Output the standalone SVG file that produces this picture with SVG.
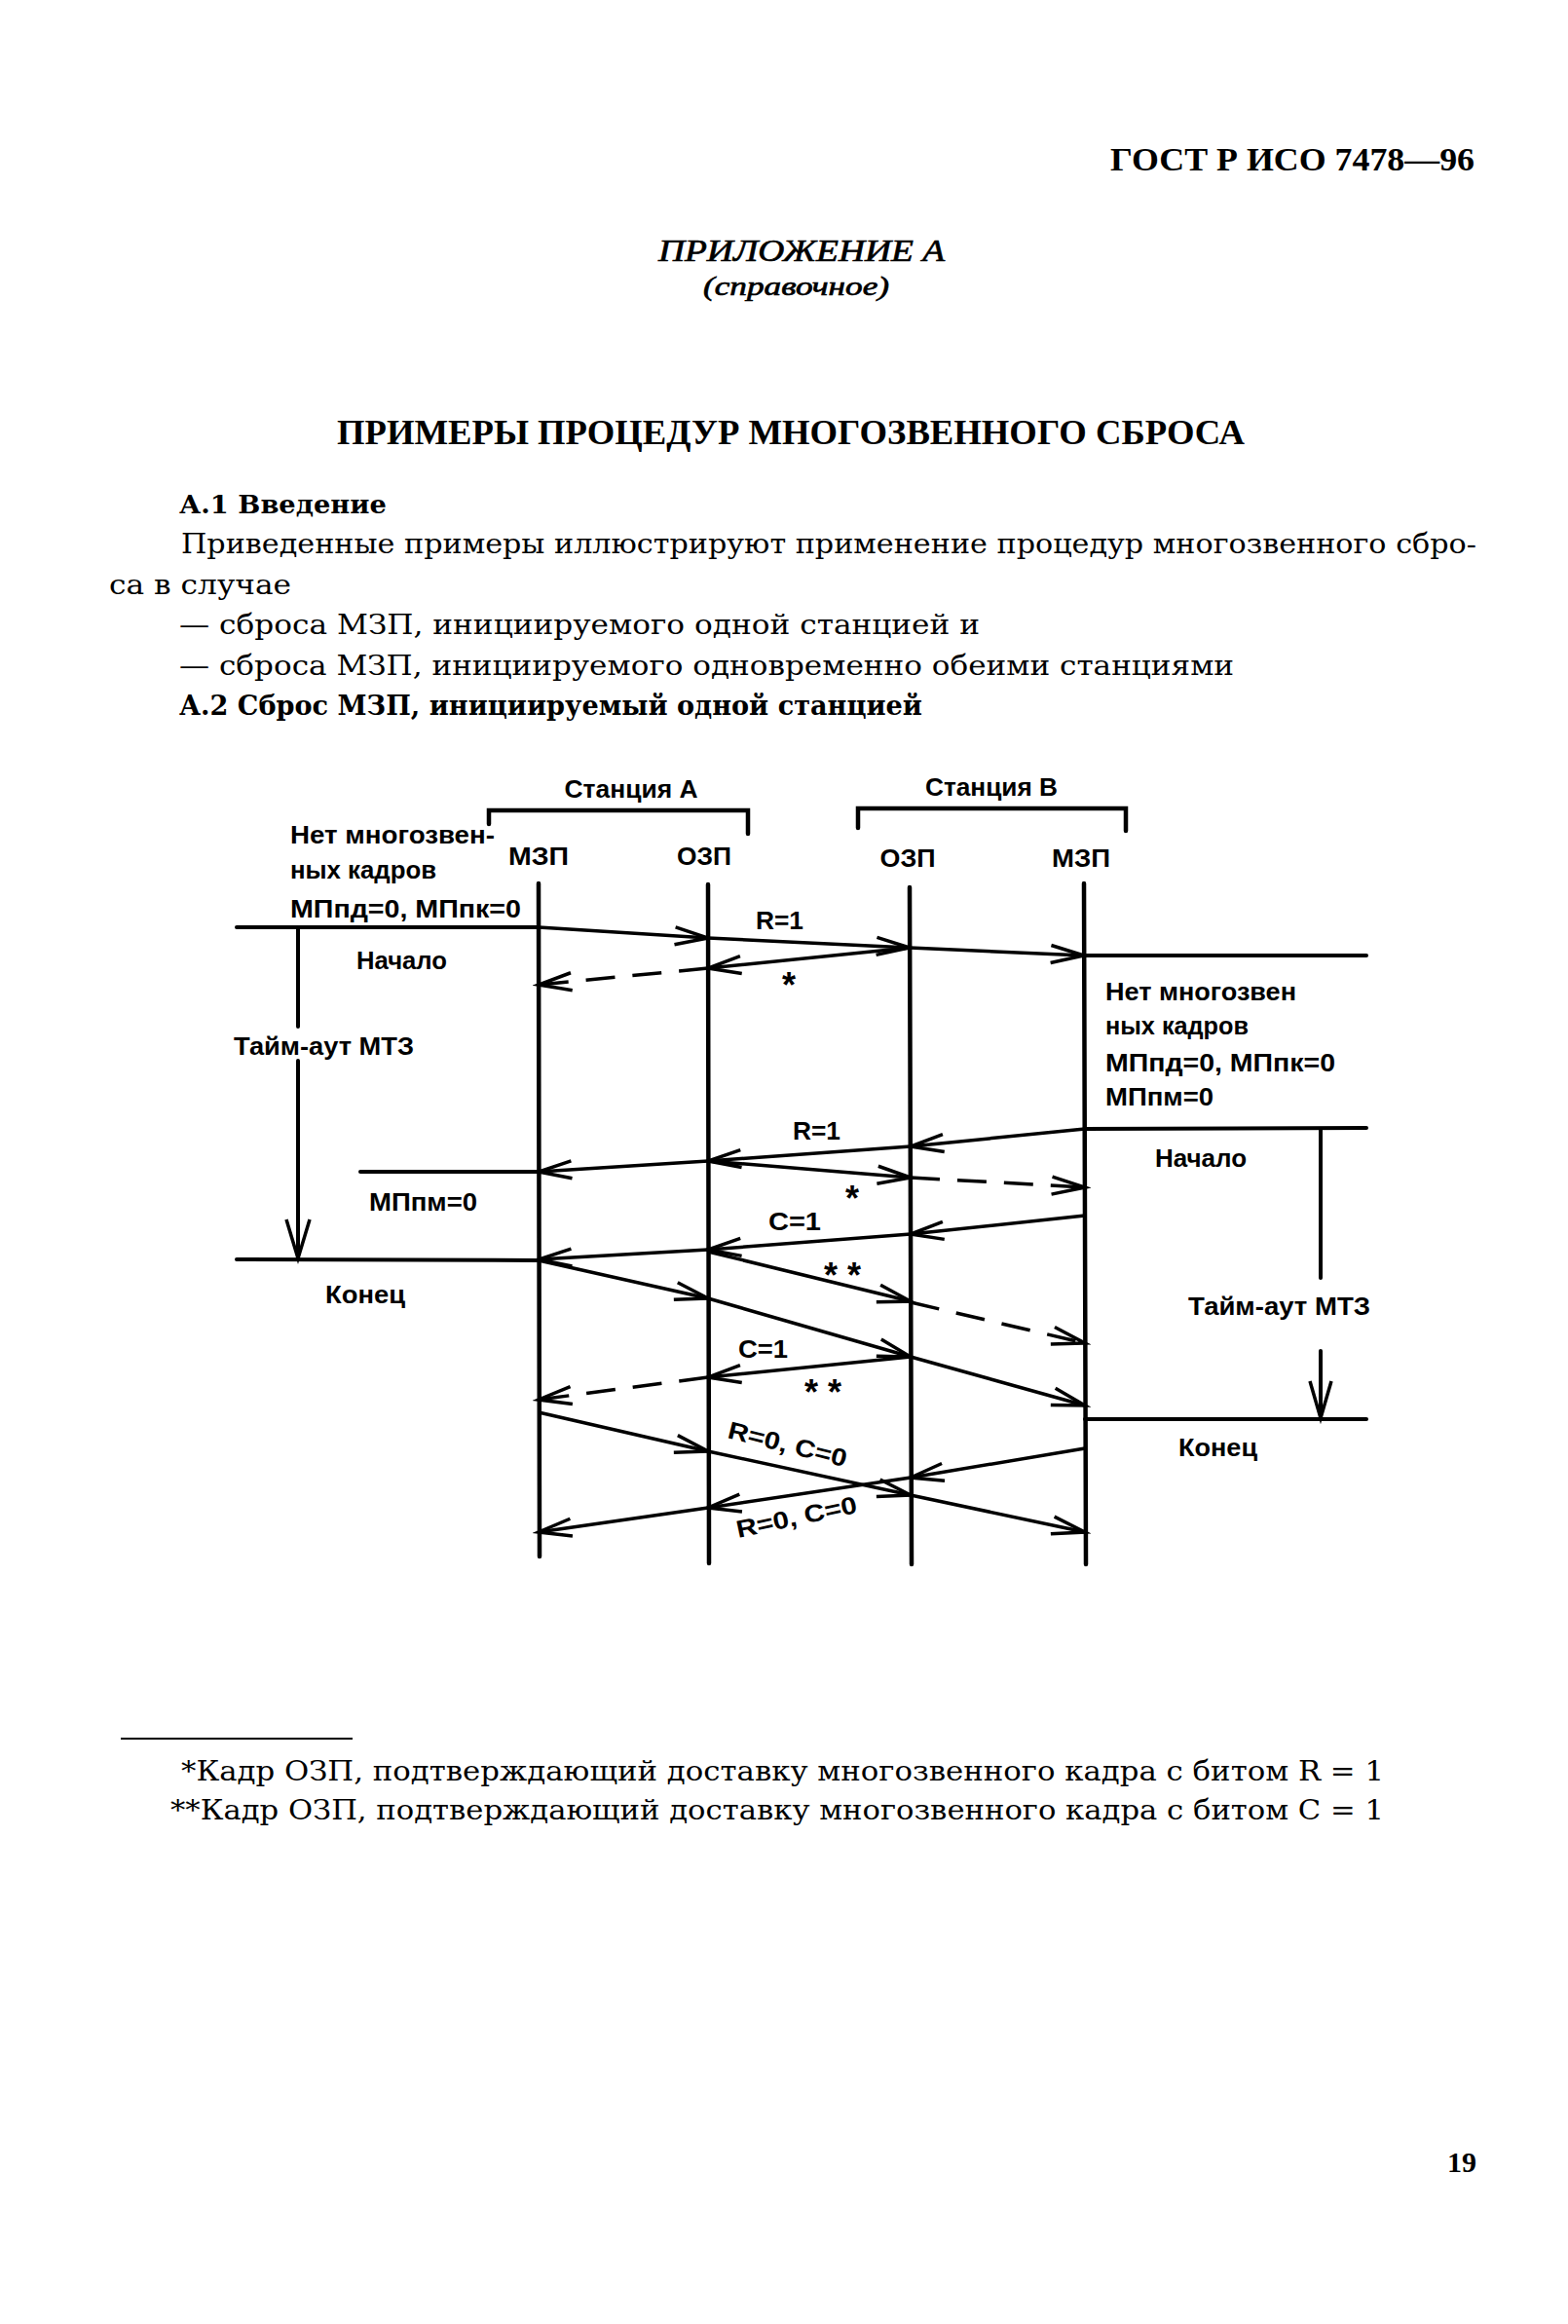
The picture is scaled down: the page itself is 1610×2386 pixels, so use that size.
<svg xmlns="http://www.w3.org/2000/svg" width="1610" height="2386" viewBox="0 0 1610 2386">
<defs>
<style>
.serif{font-family:"Liberation Serif","Times New Roman",serif;fill:#000}
.wide{font-family:"DejaVu Serif","Liberation Serif",serif;fill:#000}
.b{font-weight:bold}
.i{font-style:italic}
.body{font-size:27px}
.thick{stroke:#000;stroke-width:0.7}
.d{font-family:"Liberation Sans",Arial,sans-serif;font-weight:bold;font-size:25px;fill:#000}
.star{font-family:"Liberation Sans",Arial,sans-serif;font-weight:bold;font-size:36px;fill:#000}
.life{stroke:#000;stroke-width:4.5;fill:none;stroke-linecap:round}
.hl{stroke:#000;stroke-width:4;fill:none;stroke-linecap:round}
.msg{stroke:#000;stroke-width:3.5;fill:none;marker-end:url(#ah)}
.dash{stroke-dasharray:30 18}
.ln{stroke:#000;stroke-width:3.5;fill:none}
</style>
<marker id="ah" viewBox="-40 -14 46 28" refX="0" refY="0" markerWidth="46" markerHeight="28" markerUnits="userSpaceOnUse" orient="auto">
<path d="M-34,-9 L0,0 L-34,9" fill="none" stroke="#000" stroke-width="3.5" stroke-linejoin="miter"/>
</marker>
</defs>
<rect width="1610" height="2386" fill="#fff"/>

<g id="page-text">
<text class="serif b" x="1514" y="175" font-size="34" text-anchor="end" textLength="374" lengthAdjust="spacingAndGlyphs">ГОСТ Р ИСО 7478—96</text>
<text class="serif i thick" x="676" y="268" font-size="32" textLength="294" lengthAdjust="spacingAndGlyphs">ПРИЛОЖЕНИЕ А</text>
<text class="serif i thick" x="722" y="303" font-size="28" textLength="191" lengthAdjust="spacingAndGlyphs">(справочное)</text>
<text class="serif b" x="346" y="456" font-size="35" textLength="932" lengthAdjust="spacingAndGlyphs">ПРИМЕРЫ ПРОЦЕДУР МНОГОЗВЕННОГО СБРОСА</text>
<text class="wide b" x="184" y="527" font-size="26" textLength="213" lengthAdjust="spacingAndGlyphs">А.1 Введение</text>
<text class="wide body" x="186" y="568" textLength="1330" lengthAdjust="spacingAndGlyphs">Приведенные примеры иллюстрируют применение процедур многозвенного сбро-</text>
<text class="wide body" x="112" y="610" textLength="187" lengthAdjust="spacingAndGlyphs">са в случае</text>
<text class="wide body" x="184" y="651" textLength="822" lengthAdjust="spacingAndGlyphs">— сброса МЗП, инициируемого одной станцией и</text>
<text class="wide body" x="184" y="693" textLength="1083" lengthAdjust="spacingAndGlyphs">— сброса МЗП, инициируемого одновременно обеими станциями</text>
<text class="wide b body" x="184" y="734" textLength="763" lengthAdjust="spacingAndGlyphs">А.2 Сброс МЗП, инициируемый одной станцией</text>
</g>

<g id="station-a">
<text class="d" x="648" y="819" text-anchor="middle" textLength="137" lengthAdjust="spacingAndGlyphs">Станция А</text>
<path d="M502,846 L502,832 L768,832 L768,856" class="life"/>
</g>
<g id="station-b">
<text class="d" x="1018" y="817" text-anchor="middle" textLength="136" lengthAdjust="spacingAndGlyphs">Станция В</text>
<path d="M881,850 L881,830 L1156,830 L1156,853" class="life"/>
</g>

<g id="lifeline-mzp-a">
<text class="d" x="553" y="888" text-anchor="middle" textLength="62" lengthAdjust="spacingAndGlyphs">МЗП</text>
<line x1="553" y1="907" x2="554" y2="1598" class="life"/>
</g>
<g id="lifeline-ozp-a">
<text class="d" x="723" y="888" text-anchor="middle" textLength="56" lengthAdjust="spacingAndGlyphs">ОЗП</text>
<line x1="727" y1="908" x2="728" y2="1605" class="life"/>
</g>
<g id="lifeline-ozp-b">
<text class="d" x="932" y="890" text-anchor="middle" textLength="57" lengthAdjust="spacingAndGlyphs">ОЗП</text>
<line x1="934" y1="911" x2="936" y2="1606" class="life"/>
</g>
<g id="lifeline-mzp-b">
<text class="d" x="1110" y="890" text-anchor="middle" textLength="60" lengthAdjust="spacingAndGlyphs">МЗП</text>
<line x1="1113" y1="907" x2="1115" y2="1606" class="life"/>
</g>

<g id="state-a">
<text class="d" x="298" y="866" textLength="210" lengthAdjust="spacingAndGlyphs">Нет многозвен-</text>
<text class="d" x="298" y="902" textLength="150" lengthAdjust="spacingAndGlyphs">ных кадров</text>
<text class="d" x="298" y="942" textLength="237" lengthAdjust="spacingAndGlyphs">МПпд=0, МПпк=0</text>
<line x1="243" y1="952" x2="553" y2="952" class="hl"/>
<text class="d" x="366" y="995" textLength="93" lengthAdjust="spacingAndGlyphs">Начало</text>
<line x1="306" y1="953" x2="306" y2="1054" class="hl"/>
<text class="d" x="240" y="1083" textLength="185" lengthAdjust="spacingAndGlyphs">Тайм-аут МТЗ</text>
<line x1="306" y1="1089" x2="306" y2="1290" class="hl"/>
<path d="M294,1252 L306,1292 L318,1252" class="ln"/>
<line x1="370" y1="1203" x2="553" y2="1203" class="hl"/>
<text class="d" x="379" y="1243" textLength="111" lengthAdjust="spacingAndGlyphs">МПпм=0</text>
<line x1="243" y1="1293" x2="553" y2="1294" class="hl"/>
<text class="d" x="334" y="1338" textLength="82" lengthAdjust="spacingAndGlyphs">Конец</text>
</g>

<g id="state-b">
<line x1="1114" y1="981" x2="1403" y2="981" class="hl"/>
<text class="d" x="1135" y="1027" textLength="196" lengthAdjust="spacingAndGlyphs">Нет многозвен</text>
<text class="d" x="1135" y="1062" textLength="147" lengthAdjust="spacingAndGlyphs">ных кадров</text>
<text class="d" x="1135" y="1100" textLength="236" lengthAdjust="spacingAndGlyphs">МПпд=0, МПпк=0</text>
<text class="d" x="1135" y="1135" textLength="111" lengthAdjust="spacingAndGlyphs">МПпм=0</text>
<line x1="1114" y1="1159" x2="1403" y2="1158" class="hl"/>
<text class="d" x="1186" y="1198" textLength="94" lengthAdjust="spacingAndGlyphs">Начало</text>
<line x1="1356" y1="1159" x2="1356" y2="1312" class="hl"/>
<text class="d" x="1220" y="1350" textLength="187" lengthAdjust="spacingAndGlyphs">Тайм-аут МТЗ</text>
<line x1="1356" y1="1387" x2="1356" y2="1453" class="hl"/>
<path d="M1345,1418 L1356,1456 L1367,1418" class="ln"/>
<line x1="1114" y1="1457" x2="1403" y2="1457" class="hl"/>
<text class="d" x="1210" y="1495" textLength="81" lengthAdjust="spacingAndGlyphs">Конец</text>
</g>

<g id="connectors">
<line x1="553" y1="952" x2="727" y2="963" class="msg"/>
<line x1="727" y1="963" x2="934" y2="973" class="msg"/>
<line x1="934" y1="973" x2="1113" y2="981" class="msg"/>
<text class="d" x="776" y="954" textLength="49" lengthAdjust="spacingAndGlyphs">R=1</text>
<line x1="934" y1="973" x2="727" y2="994" class="msg"/>
<line x1="727" y1="994" x2="553" y2="1011" class="msg dash"/>
<text class="star" x="810" y="1024" text-anchor="middle">*</text>
<line x1="1114" y1="1159" x2="935" y2="1177" class="msg"/>
<line x1="935" y1="1177" x2="727" y2="1192" class="msg"/>
<line x1="727" y1="1192" x2="553" y2="1203" class="msg"/>
<text class="d" x="814" y="1170" textLength="49" lengthAdjust="spacingAndGlyphs">R=1</text>
<line x1="727" y1="1192" x2="935" y2="1209" class="msg"/>
<line x1="935" y1="1209" x2="1114" y2="1219" class="msg dash"/>
<text class="star" x="875" y="1243" text-anchor="middle">*</text>
<line x1="1114" y1="1248" x2="935" y2="1267" class="msg"/>
<line x1="935" y1="1267" x2="727" y2="1283" class="msg"/>
<line x1="727" y1="1283" x2="553" y2="1293" class="msg"/>
<text class="d" x="789" y="1263" textLength="54" lengthAdjust="spacingAndGlyphs">C=1</text>
<line x1="727" y1="1285" x2="935" y2="1336" class="msg"/>
<line x1="935" y1="1337" x2="1114" y2="1379" class="msg dash"/>
<text class="star" x="865" y="1322" text-anchor="middle">* *</text>
<line x1="553" y1="1294" x2="727" y2="1333" class="msg"/>
<line x1="727" y1="1333" x2="935" y2="1393" class="msg"/>
<line x1="935" y1="1393" x2="1114" y2="1443" class="msg"/>
<text class="d" x="758" y="1394" textLength="51" lengthAdjust="spacingAndGlyphs">C=1</text>
<line x1="935" y1="1393" x2="727" y2="1414" class="msg"/>
<line x1="727" y1="1414" x2="553" y2="1437" class="msg dash"/>
<text class="star" x="845" y="1442" text-anchor="middle">* *</text>
<line x1="553" y1="1450" x2="727" y2="1490" class="msg"/>
<line x1="727" y1="1490" x2="935" y2="1535" class="msg"/>
<line x1="935" y1="1535" x2="1114" y2="1573" class="msg"/>
<text class="d" transform="translate(746,1476) rotate(14)" textLength="125" lengthAdjust="spacingAndGlyphs">R=0, C=0</text>
<line x1="1114" y1="1487" x2="935" y2="1517" class="msg"/>
<line x1="935" y1="1517" x2="727" y2="1548" class="msg"/>
<line x1="727" y1="1548" x2="553" y2="1573" class="msg"/>
<text class="d" transform="translate(758,1579) rotate(-12)" textLength="126" lengthAdjust="spacingAndGlyphs">R=0, C=0</text>
</g>

<g id="footnotes">
<line x1="124" y1="1785" x2="362" y2="1785" stroke="#000" stroke-width="2"/>
<text class="wide body" x="1421" y="1828" text-anchor="end" textLength="1235" lengthAdjust="spacingAndGlyphs">*Кадр ОЗП, подтверждающий доставку многозвенного кадра с битом R = 1</text>
<text class="wide body" x="1421" y="1868" text-anchor="end" textLength="1246" lengthAdjust="spacingAndGlyphs">**Кадр ОЗП, подтверждающий доставку многозвенного кадра с битом С = 1</text>
<text class="serif b" x="1516" y="2230" font-size="30" text-anchor="end">19</text>
</g>
</svg>
